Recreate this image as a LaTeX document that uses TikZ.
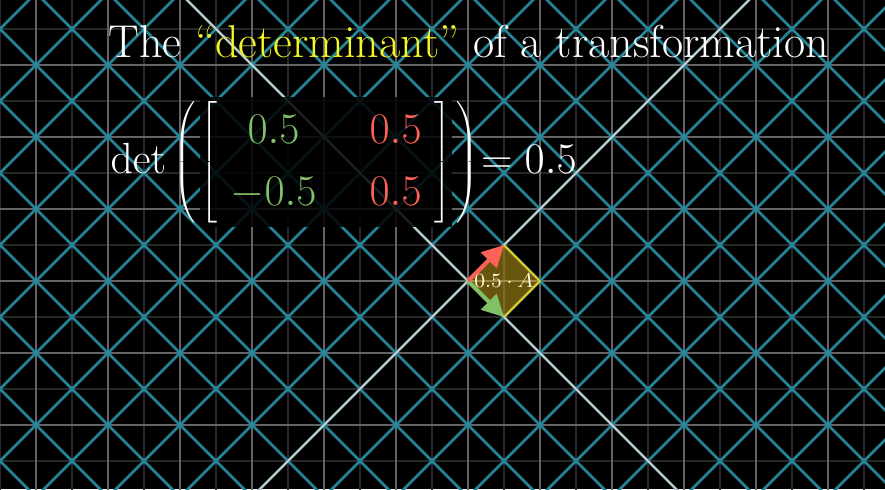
\documentclass[tikz,border=0pt]{standalone}
\usetikzlibrary{positioning,arrows.meta}
\definecolor{bgteal}{RGB}{36,134,150}
\definecolor{vgreen}{RGB}{131,193,103}
\definecolor{vred}{RGB}{252,98,85}
\definecolor{hlyellow}{RGB}{245,245,40}
\definecolor{areayellow}{RGB}{232,190,30}
\definecolor{minorgray}{RGB}{40,40,40}
\definecolor{majorgray}{RGB}{100,100,100}
\renewcommand{\arraystretch}{1.23}
\newcommand{\detmat}{\left[\begin{array}{@{\hspace{5pt}}c@{\hspace{21pt}}c@{\hspace{5pt}}}
\color{vgreen}{0.5} & \color{vred}{0.5}\\
\color{vgreen}{-0.5} & \color{vred}{0.5}
\end{array}\right]}
\begin{document}
\begin{tikzpicture}[>=Triangle,
  minorline/.style={minorgray, line width=.6pt},
  majorline/.style={majorgray, line width=.8pt},
  planeline/.style={bgteal, line width=1pt},
  axisline/.style={white!80!black, line width=.8pt},
  vecarrow/.style={line width=1.6pt, arrows={-Triangle[length=.3cm, width=.3cm]}},
  eqtext/.style={text=white, font=\fontsize{16.6}{20}\selectfont}]
\useasboundingbox[fill=black] (-6.5,-2.889) rectangle (5.792,3.903);
\clip (-6.5,-2.889) rectangle (5.792,3.903);
\draw[minorline, step=.5] (-7,-3) grid (6,4);
\draw[majorline, step=1] (-7,-3) grid (6,4);
\foreach \k in {-13,...,13}{
  \draw[planeline] (\k-10,-10)--(\k+10,10);
  \draw[planeline] (\k-10,10)--(\k+10,-10);
}
\foreach \x in {-6,...,5}
  \foreach \y in {-2,...,3}
    \fill[bgteal] (\x,\y) circle (1.3pt);
\draw[axisline] (-10,-10)--(10,10);
\draw[axisline] (-10,10)--(10,-10);
\coordinate (O) at (0,0);
\coordinate (ihat) at (.5,-.5);
\coordinate (jhat) at (.5,.5);
\coordinate (ij) at (1,0);
\fill[areayellow, fill opacity=.45] (O)--(ihat)--(ij)--(jhat)--cycle;
\draw[areayellow!80!yellow, line width=.7pt] (jhat)--(ij)--(ihat);
\node (area) at (.5,0) [text=white!85!yellow, font=\fontsize{8.5}{10}\selectfont] {$0.5\cdot A$};
\draw[vecarrow, vgreen] (O)--(ihat);
\draw[vecarrow, vred] (O)--(jhat);
\node (title) [anchor=base west, inner sep=0, text=white, font=\fontsize{18.2}{22}\selectfont] at (-5,3.1) {The \textcolor{hlyellow}{“determinant”} of a transformation};
\node (lhs) [anchor=base west, inner sep=0, eqtext] at (-4.97,1.5) {$\det\left(\vphantom{\detmat}\right.$};
\node (mtx) [base right=0pt of lhs, eqtext, fill=black, fill opacity=.85, text opacity=1, inner xsep=.5pt, inner ysep=1pt] {$\detmat$};
\node (rhs) [base right=0pt of mtx, eqtext, inner sep=0] {$\left.\vphantom{\detmat}\right)\mkern-4mu=0.5$};
\end{tikzpicture}
\end{document}
